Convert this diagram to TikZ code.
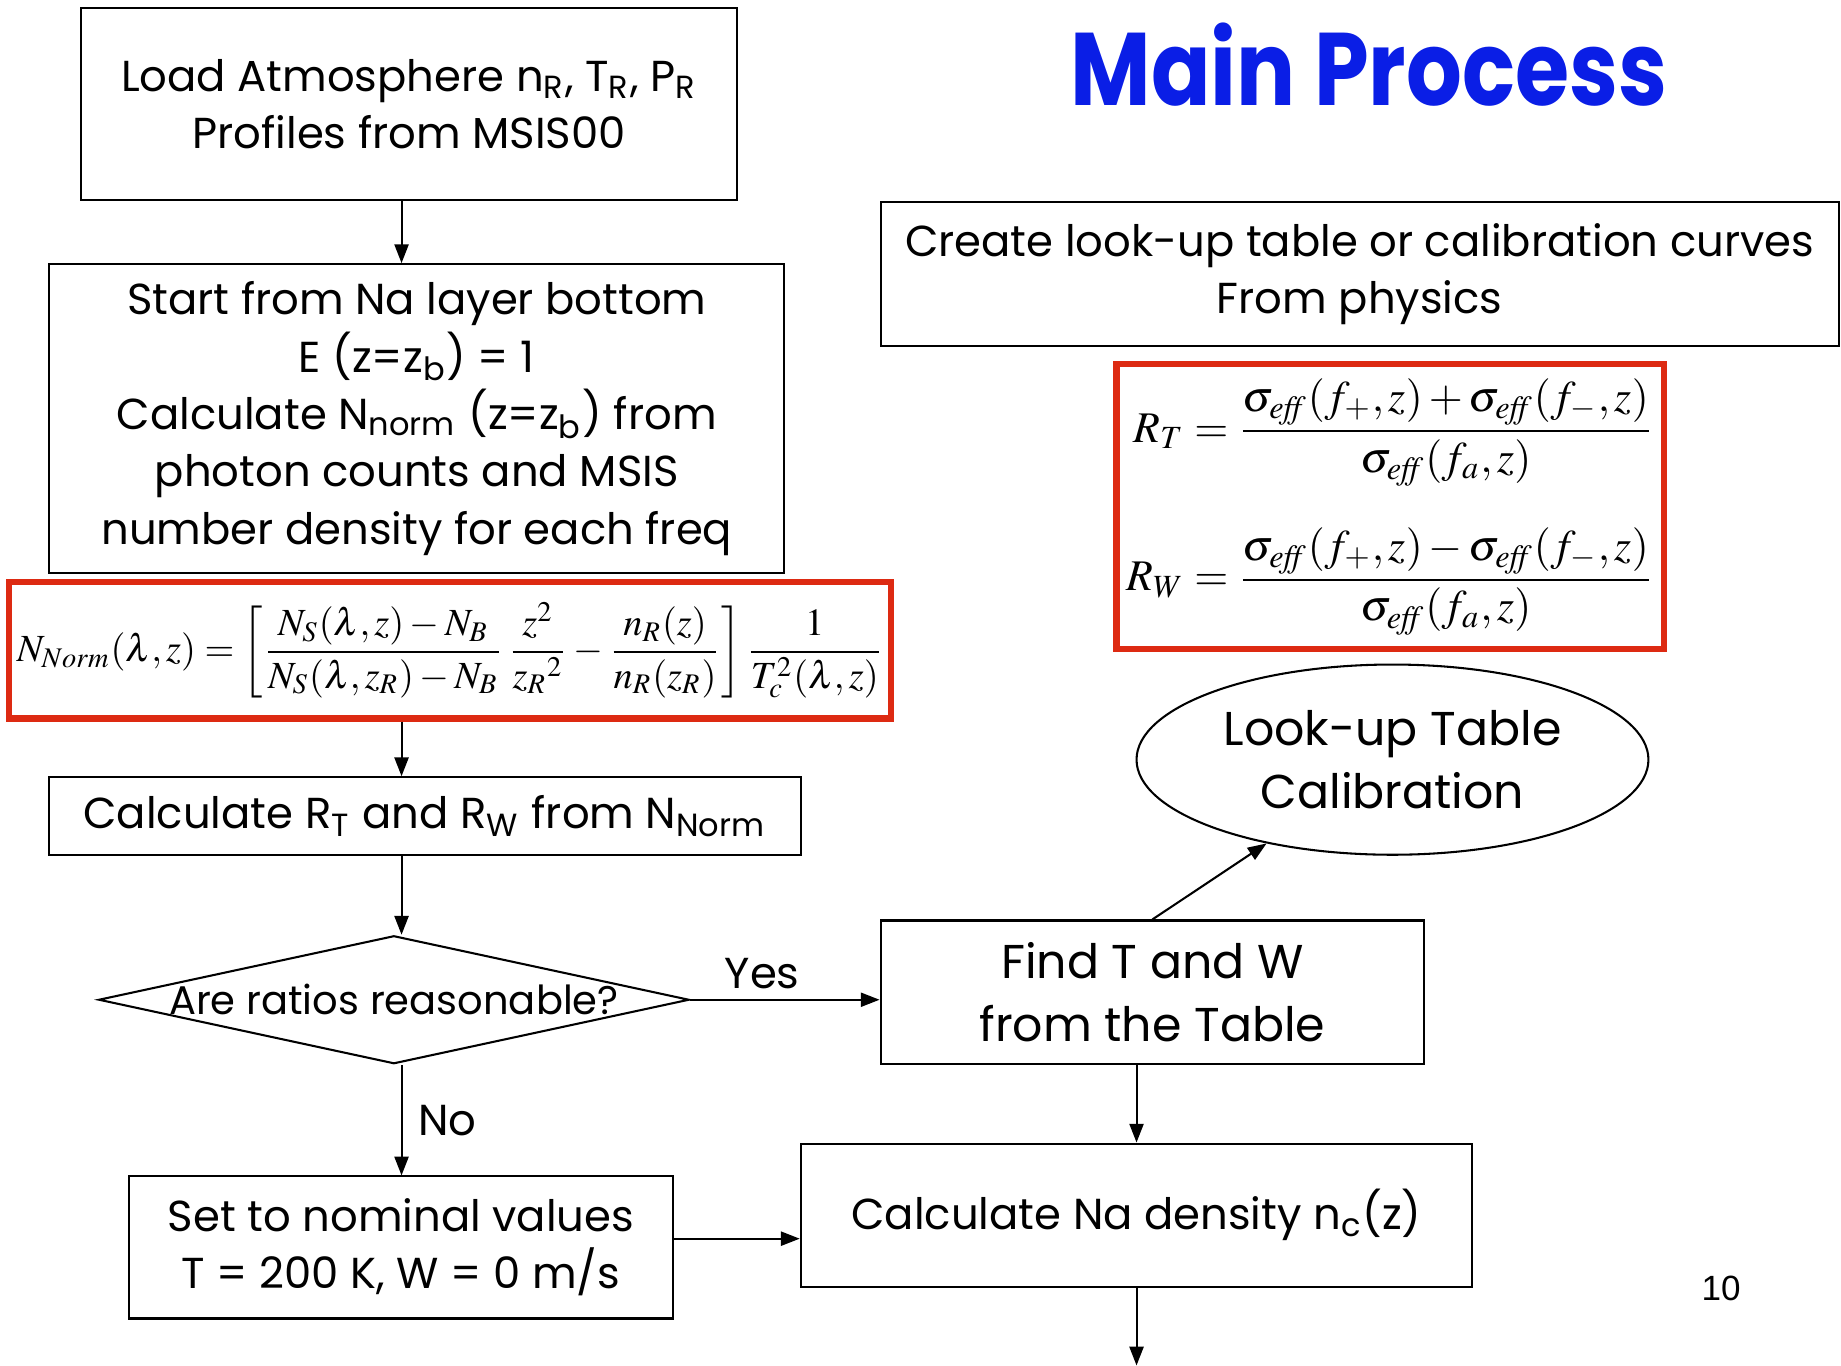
\documentclass[tikz,border=0pt]{standalone}
\usepackage{amsmath}
\usepackage{mathptmx}
\usepackage[no-math]{fontspec}
\setmainfont{Poppins}
\newfontfamily\titlefont[FakeStretch=0.85]{Poppins}
\newfontfamily\pagefont{Liberation Sans}
\usetikzlibrary{arrows.meta, positioning, shapes.geometric, calc}
\definecolor{cred}{HTML}{DD2A12}
\definecolor{cblue}{HTML}{0A1EE6}
\newcommand{\seff}{\sigma_{\mathit{eff}}}
\tikzset{
  every picture/.style={line width=0.5pt},
  box/.style={draw, align=center, inner sep=2pt, font=\fontsize{10.5}{13.9}\selectfont},
  bigbox/.style={box, font=\fontsize{11.5}{15.3}\selectfont},
  eqbox/.style={draw=cred, line width=1.5pt, inner sep=1pt, font=\fontsize{9.3}{11}\selectfont},
  decision/.style={draw, diamond, inner sep=0pt, font=\fontsize{9.7}{13}\selectfont},
  lookup/.style={draw, ellipse, inner sep=0pt, align=center, font=\fontsize{11.5}{15.3}\selectfont},
  arrow/.style={-{Triangle[length=1.6mm, width=1.2mm]}},
  note/.style={font=\fontsize{10.5}{13.9}\selectfont},
  title/.style={font=\titlefont\bfseries\fontsize{25}{29}\selectfont, text=cblue},
}

\begin{document}
\begin{tikzpicture}[x=0.1mm, y=-0.1mm]
  \useasboundingbox (0,0) rectangle (1568,1163);
  \coordinate (axis) at (342,0);
  % left column
  \node[box, minimum width=55.9mm, minimum height=16.3mm] (load) at (348.5,88.5)
    {Load Atmosphere n\textsubscript{R}, T\textsubscript{R}, P\textsubscript{R}\\Profiles from MSIS00};
  \node[box, minimum width=62.6mm, minimum height=26.3mm] (start) at (355,356.5)
    {Start from Na layer bottom\\E (z=z\textsubscript{b}) = 1\\Calculate N\textsubscript{norm} (z=z\textsubscript{b}) from\\photon counts and MSIS\\number density for each freq};
  \node[eqbox, minimum width=75.1mm, minimum height=11.6mm] (norm) at (383.5,554)
    {$\displaystyle N_{Norm}(\lambda,z)=\left[\frac{N_S(\lambda,z)-N_B}{N_S(\lambda,z_R)-N_B}\,\frac{z^2}{{z_R}^2}-\frac{n_R(z)}{n_R(z_R)}\right]\frac{1}{T_c^2(\lambda,z)}$};
  \node[box, minimum width=64mm, minimum height=6.6mm] (calcR) at (362,695)
    {Calculate R\textsubscript{T} and R\textsubscript{W} from N\textsubscript{Norm}};
  \node[decision, minimum width=50.3mm, minimum height=10.9mm] (check) at (335.5,851.5)
    {\makebox[0pt]{Are ratios reasonable?}};
  \node[box, minimum width=46.3mm, minimum height=12.1mm] (nominal) at (341.5,1062.5)
    {Set to nominal values\\T = 200 K, W = 0 m/s};
  % right column
  \node[title] (head) at (1166,55) {Main Process};
  \node[box, minimum width=81.6mm, minimum height=12.3mm] (create) at (1158,233.5)
    {Create look-up table or calibration curves\\From physics};
  \node[eqbox, minimum width=46.6mm, minimum height=24.3mm, font=\fontsize{10.6}{12.5}\selectfont] (ratios) at (1184,431.5)
    {$\begin{aligned}R_T&=\frac{\seff(f_+,z)+\seff(f_-,z)}{\seff(f_a,z)}\\[6pt]
      R_W&=\frac{\seff(f_+,z)-\seff(f_-,z)}{\seff(f_a,z)}\end{aligned}$};
  \node[lookup, minimum width=43.6mm, minimum height=16.2mm] (lut) at (1186,647)
    {Look-up Table\\Calibration};
  \node[bigbox, minimum width=46.3mm, minimum height=12.2mm] (find) at (981.5,845)
    {Find T and W\\from the Table};
  \node[box, minimum width=57.2mm, minimum height=12.2mm] (dens) at (968,1035)
    {Calculate Na density n\textsubscript{c}(z)};
  \coordinate (out) at (968,1163);
  \node[font=\pagefont\fontsize{8.5}{10}\selectfont] (page) at (1466,1097) {10};
  % connectors
  \draw[arrow] (load.south -| axis) -- (start.north -| axis);
  \draw[arrow] (norm.south -| axis) -- (calcR.north -| axis);
  \draw[arrow] (calcR.south -| axis) -- (check.north -| axis);
  \draw[arrow] (check.east) -- node[note, above=-1pt, pos=0.38] {Yes} (check.east -| find.west);
  \draw[arrow] (check.south -| axis) -- node[note, right=0.5pt] {No} (nominal.north -| axis);
  \draw[arrow] ([yshift=0.75mm]nominal.east) -- ([yshift=0.75mm]nominal.east -| dens.west);
  \draw[arrow] (find.north) -- (lut);
  \draw[arrow] (find.south -| dens) -- (dens.north);
  \draw[arrow] (dens.south) -- (out);
\end{tikzpicture}
\end{document}
